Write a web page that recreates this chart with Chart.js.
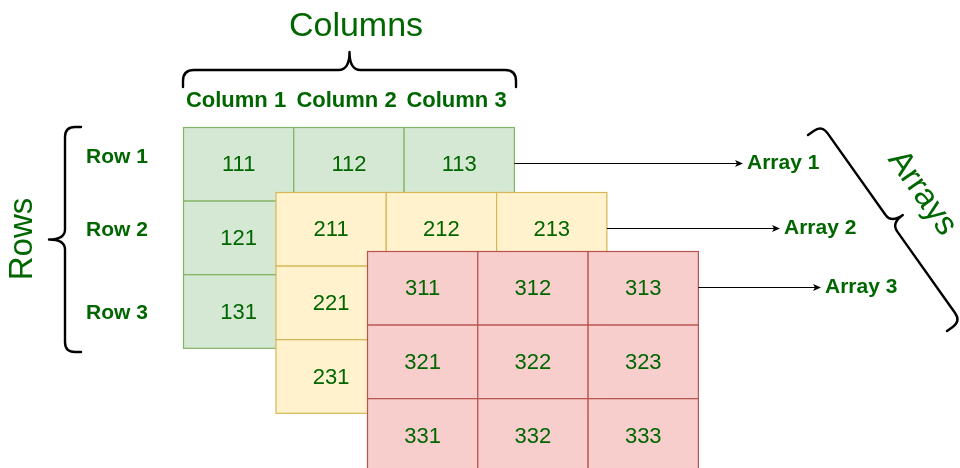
<!DOCTYPE html>
<html>
<head>
<meta charset="utf-8">
<script src="https://cdn.jsdelivr.net/npm/chart.js@4.4.1/dist/chart.umd.min.js"></script>
<style>
  html, body { margin: 0; padding: 0; background: #ffffff; }
  #wrap { width: 960px; height: 468px; }
</style>
</head>
<body>
<div id="wrap"><canvas id="diagram" width="960" height="468"></canvas></div>
<script>
// --- contenu du schéma ---
const titleColumns = 'Columns';
const titleRows = 'Rows';
const titleArrays = 'Arrays';
const columnLabels = ['Column 1', 'Column 2', 'Column 3'];
const rowLabels = ['Row 1', 'Row 2', 'Row 3'];
const arrayNames = ['Array 1', 'Array 2', 'Array 3'];

const array1 = [[111, 112, 113], [121, 122, 123], [131, 132, 133]];
const array2 = [[211, 212, 213], [221, 222, 223], [231, 232, 233]];
const array3 = [[311, 312, 313], [321, 322, 323], [331, 332, 333]];
const arrays = [array1, array2, array3];

// --- mise en page (unités des axes = pixels) ---
const GRID_ORIGINS = [[183.5, 127.5], [276, 192.5], [367.5, 251.5]];
const CELL_W = 110.3;
const CELL_H = 73.6;
const ARROW_END_X = [743, 780, 821];
const COLUMN_LABEL_X = [236, 346.5, 456.5];
const COLUMN_LABEL_Y = 101;
const ROW_LABEL_X = 86;
const ROW_LABEL_Y = [157, 230, 313];

const GREEN_TEXT = '#006600';
const PALETTE = [
    { fill: '#d5e8d4', stroke: '#82b366' }, // vert
    { fill: '#fff2cc', stroke: '#d6b656' }, // jaune
    { fill: '#f8cecc', stroke: '#b85450' }  // rouge
];
const FONT = '"Liberation Sans", Arial, Helvetica, sans-serif';

function drawBrace(ctx, x1, y1, x2, y2, d1, d2, r) {
    const L = Math.hypot(x2 - x1, y2 - y1);
    const ux = (x2 - x1) / L, uy = (y2 - y1) / L;
    const nx = uy, ny = -ux;
    const P = (u, v) => [x1 + ux * u + nx * v, y1 + uy * u + ny * v];
    ctx.beginPath();
    ctx.moveTo(...P(0, 0));
    ctx.lineTo(...P(0, d1 - r));
    ctx.quadraticCurveTo(...P(0, d1), ...P(r, d1));
    ctx.lineTo(...P(L / 2 - r, d1));
    ctx.quadraticCurveTo(...P(L / 2, d1), ...P(L / 2, d1 + d2));
    ctx.moveTo(...P(L, 0));
    ctx.lineTo(...P(L, d1 - r));
    ctx.quadraticCurveTo(...P(L, d1), ...P(L - r, d1));
    ctx.lineTo(...P(L / 2 + r, d1));
    ctx.quadraticCurveTo(...P(L / 2, d1), ...P(L / 2, d1 + d2));
    ctx.stroke();
}

function drawArrow(ctx, x1, x2, y) {
    ctx.beginPath();
    ctx.moveTo(x1, y);
    ctx.lineTo(x2 - 4, y);
    ctx.stroke();
    ctx.beginPath();
    ctx.moveTo(x2, y);
    ctx.lineTo(x2 - 8, y - 3.5);
    ctx.lineTo(x2 - 6, y);
    ctx.lineTo(x2 - 8, y + 3.5);
    ctx.closePath();
    ctx.fill();
}

const diagramPlugin = {
    id: 'diagram',
    afterDraw(chart) {
        const ctx = chart.ctx;
        const xs = chart.scales.x, ys = chart.scales.y;
        const px = v => xs.getPixelForValue(v);
        const py = v => ys.getPixelForValue(v);
        ctx.save();

        // grilles
        arrays.forEach((grid, k) => {
            const [ox, oy] = GRID_ORIGINS[k];
            const pal = PALETTE[k];
            grid.forEach((row, r) => {
                row.forEach((val, c) => {
                    const x0 = px(ox + c * CELL_W), x1 = px(ox + (c + 1) * CELL_W);
                    const y0 = py(oy + r * CELL_H), y1 = py(oy + (r + 1) * CELL_H);
                    ctx.fillStyle = pal.fill;
                    ctx.fillRect(x0, y0, x1 - x0, y1 - y0);
                    ctx.strokeStyle = pal.stroke;
                    ctx.lineWidth = 1.2;
                    ctx.strokeRect(x0, y0, x1 - x0, y1 - y0);
                    ctx.fillStyle = GREEN_TEXT;
                    ctx.font = '22px ' + FONT;
                    ctx.textAlign = 'center';
                    ctx.textBaseline = 'middle';
                    ctx.fillText(String(val), (x0 + x1) / 2, (y0 + y1) / 2 + 1);
                });
            });
        });

        // flèches + noms des tableaux
        ctx.lineWidth = 1;
        arrayNames.forEach((name, k) => {
            const [ox, oy] = GRID_ORIGINS[k];
            const y = Math.round(py(oy + CELL_H / 2)) - 0.5;
            ctx.strokeStyle = '#000';
            ctx.fillStyle = '#000';
            drawArrow(ctx, px(ox + 3 * CELL_W), px(ARROW_END_X[k]), y);
            ctx.fillStyle = GREEN_TEXT;
            ctx.font = 'bold 21px ' + FONT;
            ctx.textAlign = 'left';
            ctx.textBaseline = 'middle';
            ctx.fillText(name, px(ARROW_END_X[k]) + 4, y);
        });

        // étiquettes colonnes / lignes
        ctx.fillStyle = GREEN_TEXT;
        ctx.font = 'bold 22px ' + FONT;
        ctx.textAlign = 'center';
        ctx.textBaseline = 'middle';
        columnLabels.forEach((lab, c) => ctx.fillText(lab, px(COLUMN_LABEL_X[c]), py(COLUMN_LABEL_Y)));
        ctx.font = 'bold 21px ' + FONT;
        ctx.textAlign = 'left';
        rowLabels.forEach((lab, r) => ctx.fillText(lab, px(ROW_LABEL_X), py(ROW_LABEL_Y[r])));

        // accolades
        ctx.strokeStyle = '#000';
        ctx.lineWidth = 2.4;
        ctx.lineCap = 'round';
        drawBrace(ctx, px(183), py(87), px(516), py(87), 17, 18, 11);
        drawBrace(ctx, px(81), py(352), px(81), py(127), 16, 16, 10);
        drawBrace(ctx, px(808), py(135), px(947), py(331), 17, 14, 10);

        // titres
        ctx.fillStyle = GREEN_TEXT;
        ctx.font = '34px ' + FONT;
        ctx.textAlign = 'center';
        ctx.textBaseline = 'middle';
        ctx.fillText(titleColumns, px(356), py(27));

        ctx.save();
        ctx.translate(px(23), py(239));
        ctx.rotate(-Math.PI / 2);
        ctx.font = '33px ' + FONT;
        ctx.fillText(titleRows, 0, 0);
        ctx.restore();

        ctx.save();
        ctx.translate(px(922), py(193));
        ctx.rotate(55 * Math.PI / 180);
        ctx.font = '33px ' + FONT;
        ctx.fillText(titleArrays, 0, 0);
        ctx.restore();

        ctx.restore();
    }
};

const ctx = document.getElementById('diagram');
const myChart = new Chart(ctx, {
    type: 'scatter',
    data: { datasets: [{ data: [], pointRadius: 0 }] },
    options: {
        responsive: false,
        animation: false,
        devicePixelRatio: 1,
        layout: { padding: 0 },
        scales: {
            x: { type: 'linear', min: 0, max: 960, display: false },
            y: { type: 'linear', min: 0, max: 468, reverse: true, display: false }
        },
        plugins: {
            legend: { display: false },
            tooltip: { enabled: false }
        }
    },
    plugins: [diagramPlugin]
});
</script>
</body>
</html>
